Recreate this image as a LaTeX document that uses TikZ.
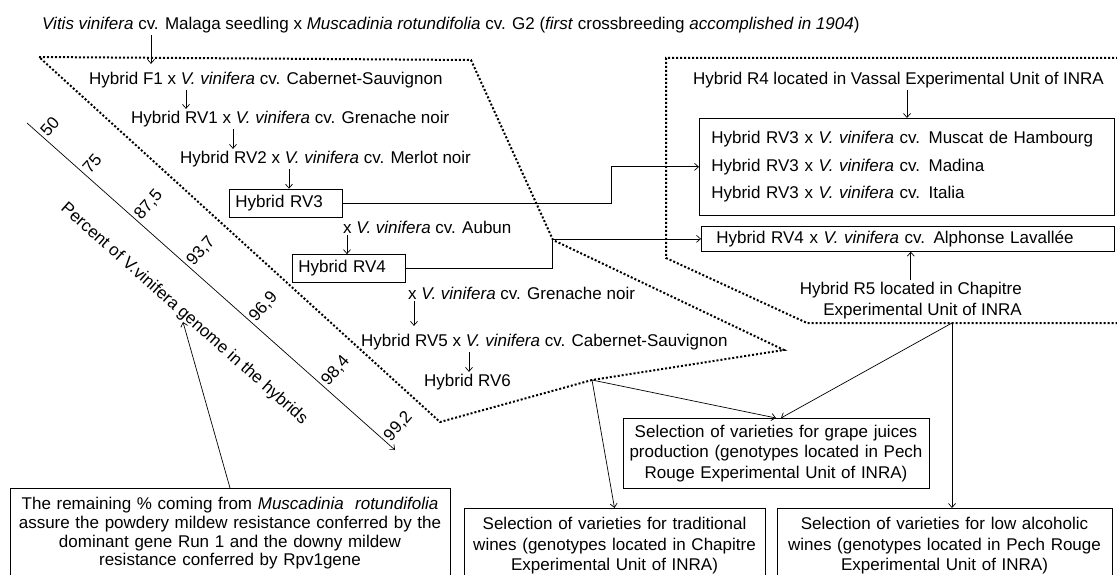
\documentclass[tikz,border=0pt]{standalone}
\usepackage{fontspec}
\setmainfont{Liberation Sans}
\usetikzlibrary{arrows.meta}

\begin{document}
\begin{tikzpicture}[x=1pt, y=-1pt,
    font=\fontsize{17}{20.5}\selectfont,
    lbl/.style={inner sep=2pt, anchor=west},
    hbox/.style={draw, line width=0.7pt, anchor=west, minimum height=28pt, inner xsep=6pt, text width=101pt, align=left},
    selbox/.style={draw, line width=0.7pt, anchor=north, align=center, inner xsep=5pt, inner ysep=9pt},
    arr/.style={-{Straight Barb[length=4pt,width=7pt]}, line width=0.7pt},
    frame/.style={line width=2pt, dash pattern=on 2pt off 2pt}]
        \useasboundingbox (0,0) rectangle (1117,575);
        \clip (0,0) rectangle (1117,575);

        % frames
        \draw[frame] (39,57) -- (471,60) -- (553,240) -- (784,350) -- (592,380) -- (440,422) -- cycle;
        \draw[frame] (1130,58) -- (666,58) -- (666,258) -- (807,323) -- (1130,323);

        % crossbreeding chain
        \node[lbl] (seed) at (40,25) {\textit{Vitis vinifera} cv. Malaga seedling x \textit{Muscadinia rotundifolia} cv. G2 (\textit{first} crossbreeding \textit{accomplished in 1904})};
        \node[lbl] (f1) at (87,80) {Hybrid F1 x \textit{V. vinifera} cv. Cabernet-Sauvignon};
        \node[lbl] (rv1) at (129,119) {Hybrid RV1 x \textit{V. vinifera} cv. Grenache noir};
        \node[lbl] (rv2) at (178,159) {Hybrid RV2 x \textit{V. vinifera} cv. Merlot noir};
        \node[hbox] (rv3) at (229,203) {Hybrid RV3};
        \node[lbl] (aubun) at (341,227) {x \textit{V. vinifera} cv. Aubun};
        \node[hbox] (rv4) at (292,268.5) {Hybrid RV4};
        \node[lbl] (grenache) at (406,293) {x \textit{V. vinifera} cv. Grenache noir};
        \node[lbl] (rv5) at (359,342) {Hybrid RV5 x \textit{V. vinifera} cv. Cabernet-Sauvignon};
        \node[lbl] (rv6) at (422,382) {Hybrid RV6};

        \draw[arr, shorten >=6pt] (seed.south -| 151,0) -- (f1.north -| 151,0);
        \draw[arr] (f1.south -| 186,0) -- (rv1.north -| 186,0);
        \draw[arr] (rv1.south -| 233,0) -- (rv2.north -| 233,0);
        \draw[arr] (rv2.south -| 289,0) -- (rv3.north -| 289,0);
        \draw[arr] (aubun.south -| 347,0) -- (rv4.north -| 347,0);
        \draw[arr, shorten >=6pt] (grenache.south -| 414,0) -- (rv5.north -| 414,0);
        \draw[arr] (rv5.south -| 469,0) -- (rv6.north -| 469,0);

        % Vassal and Chapitre
        \node[lbl] (vassal) at (691,80) {Hybrid R4 located in Vassal Experimental Unit of INRA};
        \node[draw, line width=0.7pt, anchor=north west, minimum height=97pt, inner xsep=12pt, text width=391pt, align=left] (crosses) at (699,118)
            {Hybrid RV3 x \textit{V. vinifera} cv. Muscat de Hambourg\\[7pt]
             Hybrid RV3 x \textit{V. vinifera} cv. Madina\\[7pt]
             Hybrid RV3 x \textit{V. vinifera} cv. Italia};
        \node[draw, line width=0.7pt, anchor=north west, minimum height=25pt, inner xsep=15pt, text width=383pt, align=left] (alph) at (701,226)
            {Hybrid RV4 x \textit{V. vinifera} cv. Alphonse Lavallée};
        \node[inner sep=2pt, anchor=east, align=right] (chapitre) at (1024,300.5) {Hybrid R5 located in Chapitre\\Experimental Unit of INRA};

        \draw[arr] (vassal.south -| 907,0) -- (crosses.north -| 907,0);
        \draw[arr] (chapitre.north) -- (chapitre.north |- alph.south);
        \draw[arr] (rv3.east) -| ([xshift=-88pt]crosses.west) -- (crosses.west);
        \draw[arr] (rv4.east) -| ([xshift=-149pt]alph.west) -- (alph.west);

        % percent scale
        \coordinate (s0) at (27,123);
        \coordinate (s1) at (395,450);
        \draw[arr] (s0) -- (s1);
        \foreach \p/\v in {0.039/50, 0.154/75, 0.295/{87,5}, 0.437/{93,7}, 0.607/{96,9}, 0.803/{98,4}, 0.973/{99,2}}
            \path (s0) -- (s1) node[pos=\p, anchor=west, rotate=48.4, inner sep=3pt] {\v};
        \node[rotate=-41.6, inner sep=0pt] (pctlabel) at (184,314) {Percent of V.vinifera genome in the hybrids};

        % selections
        \node[selbox, text width=436pt, inner xsep=2pt, font=\fontsize{17}{18.7}\selectfont] (note) at (230,488)
            {The remaining \% coming from \textit{Muscadinia}\ \ \textit{rotundifolia}\\assure the powdery mildew resistance conferred by the\\dominant gene Run 1 and the downy mildew\\resistance conferred by Rpv1gene};
        \node[selbox, text width=296pt, inner ysep=6.5pt] (juice) at (776,418)
            {Selection of varieties for grape juices\\production (genotypes located in Pech\\Rouge Experimental Unit of INRA)};
        \node[selbox, text width=291pt] (trad) at (614.5,508)
            {Selection of varieties for traditional\\wines (genotypes located in Chapitre\\Experimental Unit of INRA)};
        \node[selbox, text width=325pt] (low) at (944.5,508)
            {Selection of varieties for low alcoholic\\wines (genotypes located in Pech Rouge\\Experimental Unit of INRA)};

        \coordinate (split) at (592,380);
        \coordinate (fork) at (952,323);
        \coordinate (pcttip) at (183,322);
        \draw[arr] (split) -- (trad.north);
        \draw[arr] (split) -- (juice.north);
        \draw[arr] (fork) -- ([xshift=5pt]juice.north);
        \draw[arr] (fork) -- (fork |- low.north);
        \draw[arr] (note.north) -- (pcttip);
    \end{tikzpicture}
\end{document}
